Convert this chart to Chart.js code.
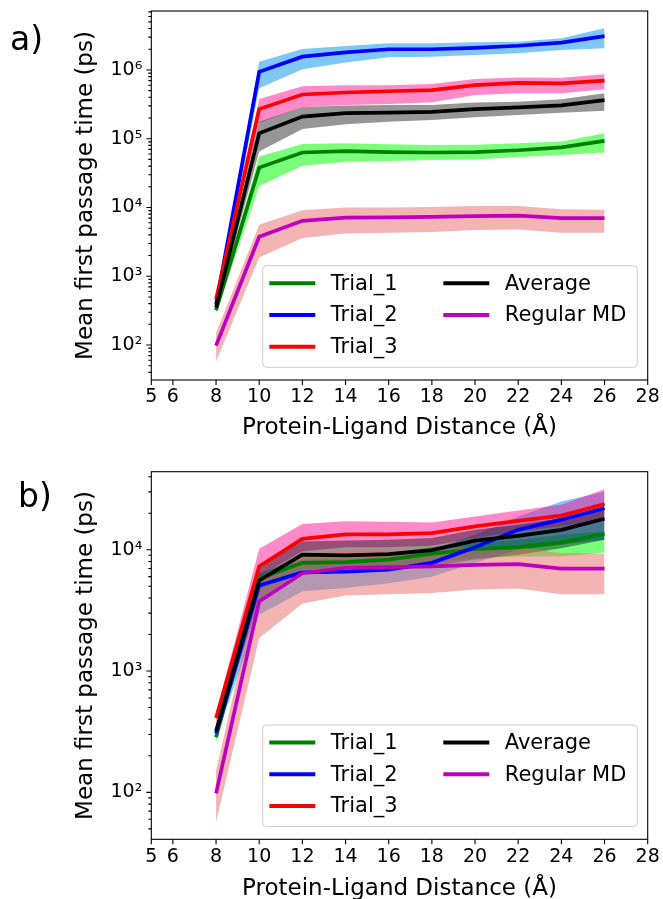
<!DOCTYPE html>
<html>
<head>
<meta charset="utf-8">
<script src="https://cdn.jsdelivr.net/npm/chart.js@4.4.0/dist/chart.umd.min.js"></script>
<style>
  html, body { margin: 0; padding: 0; background: #fff; overflow: hidden; }
  #wrap { position: relative; width: 663px; height: 899px; overflow: hidden; }
  canvas { position: absolute; left: 0; }
</style>
</head>
<body>
<div id="wrap">
  <canvas id="chartA" width="663" height="450" style="top:0px"></canvas>
  <canvas id="chartB" width="663" height="450" style="top:461px"></canvas>
</div>
<script>
// x positions (Angstrom) and axis ticks
const distances = [8, 10, 12, 14, 16, 18, 20, 22, 24, 26];
const xTickValues = [5, 6, 8, 10, 12, 14, 16, 18, 20, 22, 24, 26, 28];

const seriesNames = ['Trial_1', 'Trial_2', 'Trial_3', 'Average', 'Regular MD'];
const lineColors = ['#008000', '#0000ff', '#ff0000', '#000000', '#bf00bf'];
const bandColors = ['rgba(0,255,0,0.52)', 'rgba(0,145,235,0.5)', 'rgba(255,20,147,0.5)',
                    'rgba(0,0,0,0.41)', 'rgba(235,105,105,0.5)'];

// panel a)
const trial1A    = [320, 38000, 63000, 66000, 64000, 63000, 64000, 68000, 75000, 93000];
const trial1A_lo = [290, 20500, 40500, 46400, 47500, 49000, 50000, 54000, 58000, 63000];
const trial1A_hi = [350, 55000, 84000, 86000, 83000, 81000, 82000, 86000, 91000, 120000];

const trial2A    = [390, 940000, 1560000, 1800000, 2000000, 2000000, 2100000, 2250000, 2500000, 3100000];
const trial2A_lo = [350, 540000, 1020000, 1280000, 1530000, 1560000, 1650000, 1750000, 1950000, 2070000];
const trial2A_hi = [430, 1320000, 2020000, 2230000, 2440000, 2440000, 2530000, 2580000, 2890000, 4040000];

const trial3A    = [460, 270000, 440000, 470000, 490000, 510000, 600000, 650000, 640000, 700000];
const trial3A_lo = [410, 171000, 287000, 310000, 320000, 340000, 433000, 457000, 457000, 524000];
const trial3A_hi = [510, 379000, 578000, 598000, 598000, 625000, 740000, 780000, 770000, 865000];

const averageA    = [350, 120000, 210000, 235000, 240000, 245000, 270000, 285000, 305000, 365000];
const averageA_lo = [310, 65000, 139000, 162000, 177000, 187000, 205000, 221000, 239000, 256000];
const averageA_hi = [390, 177000, 287000, 303000, 310000, 310000, 335000, 346000, 374000, 457000];

// regular MD (same in both panels)
const regularMD    = [98, 3750, 6400, 7100, 7200, 7300, 7500, 7600, 7000, 7000];
const regularMD_lo = [57, 1870, 3600, 4200, 4300, 4400, 4700, 4800, 4300, 4300];
const regularMD_hi = [150, 5600, 9100, 10000, 10000, 10200, 10500, 10500, 9400, 9300];

// panel b)
const trial1B    = [285, 5800, 7800, 7900, 8300, 9300, 10100, 10500, 11500, 13500];
const trial1B_lo = [260, 4680, 6600, 6850, 7300, 8000, 8500, 8800, 8800, 9500];
const trial1B_hi = [315, 6400, 8800, 9000, 9400, 10500, 11400, 12100, 13300, 14200];

const trial2B    = [307, 5080, 6500, 6600, 6850, 7800, 10500, 14600, 17700, 22000];
const trial2B_lo = [280, 2910, 4540, 4830, 5300, 6000, 7800, 10000, 11000, 12100];
const trial2B_hi = [340, 6400, 8300, 8400, 8800, 10000, 13300, 18800, 25000, 30000];

const trial3B    = [410, 7300, 12300, 13400, 13400, 13700, 15600, 17300, 19100, 23800];
const trial3B_lo = [370, 6000, 9700, 10500, 10500, 10800, 12500, 14200, 15600, 17700];
const trial3B_hi = [450, 10200, 16300, 17200, 17000, 16800, 18800, 21100, 23500, 31600];

const averageB    = [320, 5580, 9100, 8980, 9200, 9940, 11900, 13000, 14600, 18000];
const averageB_lo = [290, 3870, 6850, 6850, 7060, 7300, 8300, 9100, 10300, 12100];
const averageB_hi = [350, 7500, 11700, 11900, 12100, 12500, 14600, 16100, 18200, 21400];

// y axis decades and labels
const yDecadesA = [1e2, 1e3, 1e4, 1e5, 1e6];
const yLabelsA  = ['10\u00B2', '10\u00B3', '10\u2074', '10\u2075', '10\u2076'];
const yDecadesB = [1e2, 1e3, 1e4];
const yLabelsB  = ['10\u00B2', '10\u00B3', '10\u2074'];

const FONT = "'DejaVu Sans', sans-serif";

function pts(vals) {
    return distances.map((d, i) => ({ x: d, y: vals[i] }));
}

function buildDatasets(lines, lows, highs) {
    const ds = [];
    lines.forEach((vals, i) => {
        const rank = lines.length - 1 - i;
        ds.push({
            label: seriesNames[i],
            data: pts(vals),
            borderColor: lineColors[i],
            borderWidth: 3.7,
            pointRadius: 0,
            fill: false,
            tension: 0,
            order: rank
        });
        const hiIndex = ds.length;
        ds.push({
            label: seriesNames[i] + ' band',
            data: pts(highs[i]),
            borderColor: 'rgba(0,0,0,0)',
            borderWidth: 1,
            pointRadius: 0,
            backgroundColor: bandColors[i],
            fill: hiIndex + 1,
            tension: 0,
            order: 10 + rank
        });
        ds.push({
            label: seriesNames[i] + ' low',
            data: pts(lows[i]),
            borderColor: 'rgba(0,0,0,0)',
            borderWidth: 1,
            pointRadius: 0,
            fill: false,
            tension: 0,
            order: 30
        });
    });
    return ds;
}

function isDecade(v, decades) {
    return decades.some(d => Math.abs(v - d) / d < 1e-6);
}

// ticks, spines, legend and panel letter
const decoPlugin = {
    id: 'deco',
    afterDraw(chart, args, opts) {
        const ctx = chart.ctx;
        const ca = chart.chartArea;
        const xs = chart.scales.x, ys = chart.scales.y;
        ctx.save();
        ctx.strokeStyle = '#000';
        ctx.lineWidth = 1.1;
        ctx.beginPath();
        ys.ticks.forEach(t => {
            const y = ys.getPixelForValue(t.value);
            const len = isDecade(t.value, opts.decades) ? 5 : 3;
            ctx.moveTo(ca.left - len, y);
            ctx.lineTo(ca.left, y);
        });
        xs.ticks.forEach(t => {
            const x = xs.getPixelForValue(t.value);
            ctx.moveTo(x, ca.bottom);
            ctx.lineTo(x, ca.bottom + 5);
        });
        ctx.stroke();
        ctx.strokeRect(ca.left, ca.top, ca.right - ca.left, ca.bottom - ca.top);

        // legend
        const L = ca.right - 385, T = ca.bottom - 114.3, W = 374.6, H = 101.6;
        ctx.beginPath();
        ctx.roundRect(L, T, W, H, 4);
        ctx.fillStyle = 'rgba(255,255,255,0.8)';
        ctx.fill();
        ctx.strokeStyle = '#cccccc';
        ctx.lineWidth = 1;
        ctx.stroke();
        ctx.font = '21px ' + FONT;
        ctx.textBaseline = 'middle';
        ctx.textAlign = 'left';
        seriesNames.forEach((name, i) => {
            const col = i < 3 ? 0 : 1;
            const row = i < 3 ? i : i - 3;
            const hx = L + (col === 0 ? 6.6 : 180.6);
            const y = T + 17.6 + row * 31.7;
            ctx.beginPath();
            ctx.strokeStyle = lineColors[i];
            ctx.lineWidth = 4;
            ctx.moveTo(hx, y);
            ctx.lineTo(hx + 46, y);
            ctx.stroke();
            ctx.fillStyle = '#000';
            ctx.fillText(name, hx + 61.5, y + 1);
        });

        // panel letter
        ctx.font = '33px ' + FONT;
        ctx.textBaseline = 'alphabetic';
        ctx.fillStyle = '#000';
        ctx.fillText(opts.letter, opts.letterX, opts.letterY);
        ctx.restore();
    }
};

function makeChart(id, cfg) {
    return new Chart(document.getElementById(id), {
        type: 'line',
        data: { datasets: buildDatasets(cfg.lines, cfg.lows, cfg.highs) },
        plugins: [decoPlugin],
        options: {
            responsive: false,
            animation: false,
            events: [],
            layout: { padding: { top: cfg.top, right: 15.3, bottom: 0, left: 0 } },
            plugins: {
                legend: { display: false },
                tooltip: { enabled: false },
                deco: { letter: cfg.letter, letterX: cfg.letterX, letterY: cfg.letterY, decades: cfg.decades }
            },
            scales: {
                x: {
                    type: 'linear',
                    min: 5,
                    max: 28,
                    afterBuildTicks: s => { s.ticks = xTickValues.map(v => ({ value: v })); },
                    afterFit: s => { s.height = cfg.xHeight; s.paddingLeft = 0; s.paddingRight = 0; },
                    grid: { display: false, drawTicks: false },
                    border: { display: false },
                    ticks: { autoSkip: false, maxRotation: 0, padding: 6, color: '#000',
                             font: { family: FONT, size: 19 } },
                    title: { display: true, text: 'Protein-Ligand Distance (\u00C5)', color: '#000',
                             font: { family: FONT, size: 23 }, padding: { top: 0, bottom: 8.5 } }
                },
                y: {
                    type: 'logarithmic',
                    min: cfg.yMin,
                    max: cfg.yMax,
                    afterBuildTicks: s => {
                        const ticks = [];
                        cfg.decades.forEach(d => {
                            [1, 2, 3, 4, 5, 6, 7, 8, 9].forEach(m => {
                                if (m * d >= cfg.yMin && m * d <= cfg.yMax) ticks.push({ value: m * d });
                            });
                        });
                        [0.2, 0.3, 0.4, 0.5, 0.6, 0.7, 0.8, 0.9].forEach(m => {
                            const v = m * cfg.decades[0];
                            if (v >= cfg.yMin) ticks.push({ value: v });
                        });
                        const top = cfg.decades[cfg.decades.length - 1] * 10;
                        [1, 2, 3, 4, 5, 6, 7, 8, 9].forEach(m => {
                            if (m * top <= cfg.yMax) ticks.push({ value: m * top });
                        });
                        ticks.sort((a, b) => a.value - b.value);
                        s.ticks = ticks;
                    },
                    afterFit: s => { s.width = 151.3; s.paddingTop = 0; s.paddingBottom = 0; },
                    grid: { display: false, drawTicks: false },
                    border: { display: false },
                    ticks: {
                        autoSkip: false, padding: 9, color: '#000',
                        font: { family: FONT, size: 19, lineHeight: 1 },
                        callback: v => {
                            const k = cfg.decades.findIndex(d => Math.abs(v - d) / d < 1e-6);
                            return k >= 0 ? cfg.labels[k] : '';
                        }
                    },
                    title: { display: true, text: 'Mean first passage time (ps)', color: '#000',
                             font: { family: FONT, size: 23 }, padding: { top: 72.2, bottom: 0 } }
                }
            }
        }
    });
}

makeChart('chartA', {
    lines: [trial1A, trial2A, trial3A, averageA, regularMD],
    lows:  [trial1A_lo, trial2A_lo, trial3A_lo, averageA_lo, regularMD_lo],
    highs: [trial1A_hi, trial2A_hi, trial3A_hi, averageA_hi, regularMD_hi],
    yMin: 31, yMax: 7.2e6, decades: yDecadesA, labels: yLabelsA,
    top: 11, xHeight: 70, letter: 'a)', letterX: 10, letterY: 50
});

makeChart('chartB', {
    lines: [trial1B, trial2B, trial3B, averageB, regularMD],
    lows:  [trial1B_lo, trial2B_lo, trial3B_lo, averageB_lo, regularMD_lo],
    highs: [trial1B_hi, trial2B_hi, trial3B_hi, averageB_hi, regularMD_hi],
    yMin: 41, yMax: 44000, decades: yDecadesB, labels: yLabelsB,
    top: 10.7, xHeight: 71.7, letter: 'b)', letterX: 18, letterY: 46
});
</script>
</body>
</html>
